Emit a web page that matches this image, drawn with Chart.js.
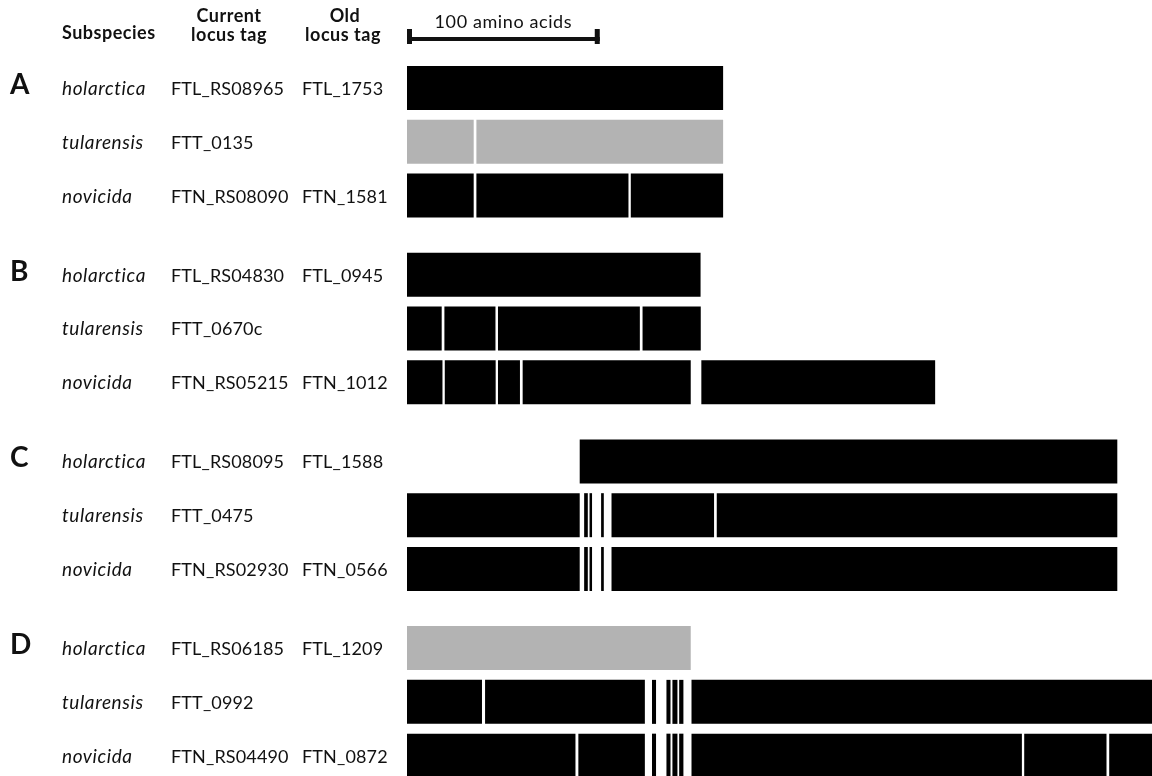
<!DOCTYPE html>
<html>
<head>
<meta charset="utf-8">
<script src="https://cdn.jsdelivr.net/npm/chart.js@4.4.0/dist/chart.umd.min.js"></script>
<style>
  html, body { margin: 0; padding: 0; background: #fff; }
  #wrap { width: 1152px; height: 776px; }
</style>
</head>
<body>
<div id="wrap"><canvas id="genes" width="1152" height="776"></canvas></div>
<script>
// ---------------------------------------------------------------
// DATA (lengths in amino acids)
// ---------------------------------------------------------------
const groups = ['A', 'B', 'C', 'D'];
const subspecies = ['holarctica', 'tularensis', 'novicida'];

const currentTags = [
    ['FTL_RS08965', 'FTT_0135', 'FTN_RS08090'],
    ['FTL_RS04830', 'FTT_0670c', 'FTN_RS05215'],
    ['FTL_RS08095', 'FTT_0475', 'FTN_RS02930'],
    ['FTL_RS06185', 'FTT_0992', 'FTN_RS04490']
];
const oldTags = [
    ['FTL_1753', '', 'FTN_1581'],
    ['FTL_0945', '', 'FTN_1012'],
    ['FTL_1588', '', 'FTN_0566'],
    ['FTL_1209', '', 'FTN_0872']
];

// gene fragments [start, end] per row (holarctica, tularensis, novicida)
const segmentsA = [
    [[0, 164]],
    [[0, 34.6], [36, 164]],
    [[0, 34.6], [36, 114.9], [116.1, 164]]
];
const segmentsB = [
    [[0, 152.3]],
    [[0, 18], [19.4, 45.9], [47.2, 120.8], [122.2, 152.4]],
    [[0, 18.4], [19.6, 46], [47.2, 58.6], [60, 147.2], [152.7, 274]]
];
const segmentsC = [
    [[89.6, 368.5]],
    [[0, 89.6], [91.9, 93.8], [94.7, 96], [100.7, 102.1], [106.1, 159.3], [160.7, 368.5]],
    [[0, 89.6], [91.9, 93.8], [94.7, 96], [100.7, 102.1], [106.1, 368.5]]
];
const segmentsD = [
    [[0, 147.2]],
    [[0, 38.9], [40.5, 123.4], [127.1, 129.2], [134.6, 136.7], [137.7, 140.3], [141.2, 143.4], [147.6, 420]],
    [[0, 87.4], [88.9, 123.4], [127.1, 129.2], [134.6, 136.7], [137.7, 140.3], [141.2, 143.4], [147.6, 319], [320.2, 362.9], [364.3, 420]]
];
const allSegments = [segmentsA, segmentsB, segmentsC, segmentsD];

// rows drawn in grey in the figure
const greyRows = [[false, true, false], [false, false, false], [false, false, false], [true, false, false]];

const scaleBarAa = 100;

// ---------------------------------------------------------------
// LAYOUT
// ---------------------------------------------------------------
const GROUP_STEP = 3.47;          // row units between group starts
const rowPos = (g, r) => g * GROUP_STEP + r;

const FONT = 'Lato, "Open Sans", sans-serif';
const INK = '#111';

function buildDatasets() {
    const black = [], grey = [];
    allSegments.forEach((group, g) => {
        group.forEach((segs, r) => {
            const target = greyRows[g][r] ? grey : black;
            segs.forEach(s => target.push({ x: s, y: rowPos(g, r) }));
        });
    });
    const common = { barThickness: 44, grouped: false, borderWidth: 0, inflateAmount: 0 };
    return [
        { label: 'present', data: black, backgroundColor: '#000', ...common },
        { label: 'grey', data: grey, backgroundColor: '#b3b3b3', ...common }
    ];
}

// labels + scale bar drawn onto the canvas
const labelPlugin = {
    id: 'labels',
    afterDraw(chart) {
        const ctx = chart.ctx;
        const xs = chart.scales.x;
        const ys = chart.scales.y;
        ctx.save();
        ctx.fillStyle = INK;
        ctx.textBaseline = 'alphabetic';

        // column headers
        ctx.letterSpacing = '0.5px';
        ctx.font = `bold 18px ${FONT}`;
        ctx.textAlign = 'left';
        ctx.fillText('Subspecies', 62, 39);
        ctx.textAlign = 'center';
        ctx.fillText('Current', 229, 22);
        ctx.fillText('locus tag', 229, 41);
        ctx.fillText('Old', 345, 22);
        ctx.fillText('locus tag', 343, 41);

        // scale bar
        const x0 = xs.getPixelForValue(0);
        const x1 = xs.getPixelForValue(scaleBarAa);
        ctx.fillRect(x0, 37, x1 - x0, 4);
        ctx.fillRect(x0, 29, 5, 15);
        ctx.fillRect(x1 - 5, 29, 5, 15);
        ctx.letterSpacing = '0.6px';
        ctx.font = `18px ${FONT}`;
        ctx.fillText(`${scaleBarAa} amino acids`, (x0 + x1) / 2, 28);

        // rows
        groups.forEach((letter, g) => {
            const yTop = ys.getPixelForValue(rowPos(g, 0));
            ctx.textAlign = 'left';
            ctx.letterSpacing = '0px';
            ctx.font = `bold 28px ${FONT}`;
            ctx.fillText(letter, 10, yTop + 6);
            subspecies.forEach((name, r) => {
                const y = ys.getPixelForValue(rowPos(g, r)) + 7;
                ctx.letterSpacing = '0.6px';
                ctx.font = `italic 19px ${FONT}`;
                ctx.fillText(name, 62, y);
                ctx.letterSpacing = '0.15px';
                ctx.font = `18px ${FONT}`;
                ctx.fillText(currentTags[g][r], 171, y);
                if (oldTags[g][r]) ctx.fillText(oldTags[g][r], 302, y);
            });
        });
        ctx.restore();
    }
};

const chart = new Chart(document.getElementById('genes'), {
    type: 'bar',
    data: { datasets: buildDatasets() },
    options: {
        indexAxis: 'y',
        responsive: false,
        animation: false,
        layout: { padding: { left: 407, right: 0, top: 0, bottom: 0 } },
        plugins: { legend: { display: false }, tooltip: { enabled: false } },
        scales: {
            x: { type: 'linear', min: 0, max: 386.5, display: false },
            y: { type: 'linear', reverse: true, offset: false, min: -1.636, max: 12.788, display: false }
        }
    },
    plugins: [labelPlugin]
});
</script>
</body>
</html>
